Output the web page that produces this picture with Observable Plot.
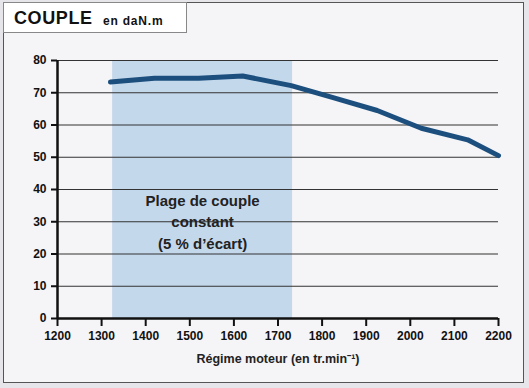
<!DOCTYPE html>
<html>
<head>
<meta charset="utf-8">
<script src="https://cdn.jsdelivr.net/npm/d3@7"></script>
<script src="https://cdn.jsdelivr.net/npm/@observablehq/plot@0.6"></script>
<style>
  html, body { margin: 0; padding: 0; background: #e6e6ea; }
  #wrap { position: relative; width: 529px; height: 388px; overflow: hidden; }
  #frame { position: absolute; left: 3px; top: 2px; width: 519px; height: 379px;
           background: #f5f4f7; border: 1.5px solid #555; }
  #title { position: absolute; left: 3px; top: 2px; width: 182px; height: 29px;
           background: #fff; border: 1px solid #888; font-family: "Liberation Sans", Arial, sans-serif;
           font-weight: bold; color: #111; white-space: nowrap; }
  #title .big { position: absolute; left: 10px; top: 5px; font-size: 18px; letter-spacing: 0.6px; }
  #title .small { position: absolute; left: 99px; top: 11px; font-size: 12px; letter-spacing: 0.8px; }
  #chart { position: absolute; left: 0; top: 0; }
</style>
</head>
<body>
<div id="wrap">
  <div id="frame"></div>
  <div id="title"><span class="big">COUPLE</span><span class="small">en daN.m</span></div>
  <div id="chart"></div>
</div>
<script>
const rpm = [1320, 1420, 1520, 1620, 1730, 1825, 1925, 2025, 2130, 2200];
const torque = [73.3, 74.5, 74.5, 75.2, 72.2, 68.5, 64.5, 59.0, 55.4, 50.5];
const bandRange = [1325, 1733];
const bandLabel = ["Plage de couple", "constant", "(5 % d’écart)"];
const xTicks = [1200, 1300, 1400, 1500, 1600, 1700, 1800, 1900, 2000, 2100, 2200];
const yTicks = [0, 10, 20, 30, 40, 50, 60, 70, 80];
const xTitle = "Régime moteur (en tr.min⁻¹)";

const data = rpm.map((r, i) => ({rpm: r, torque: torque[i]}));
const font = "'Liberation Sans Narrow', 'Liberation Sans', Arial, sans-serif";

const chart = Plot.plot({
  width: 529,
  height: 388,
  marginLeft: 57,
  marginRight: 31,
  marginTop: 60,
  marginBottom: 70,
  style: {background: "transparent", fontFamily: font, fontSize: "12px", fontWeight: "bold", color: "#111"},
  x: {domain: [1200, 2200]},
  y: {domain: [0, 80]},
  marks: [
    Plot.rect([bandRange], {x1: d => d[0], x2: d => d[1], y1: 0, y2: 80, fill: "#c4d8ec"}),
    Plot.ruleY(yTicks.filter(v => v > 0), {x1: 1200, x2: 2200, stroke: "#333", strokeWidth: 1.2}),
    Plot.text([bandLabel.join("\n")], {
      x: (bandRange[0] + bandRange[1]) / 2, y: 30.4, text: d => d,
      fontSize: 15, lineHeight: 1.45, fill: "#222", fontWeight: "bold"
    }),
    Plot.line(data, {x: "rpm", y: "torque", stroke: "#1c4f7e", strokeWidth: 5,
      strokeLinejoin: "round", strokeLinecap: "round"}),
    Plot.ruleX([1200], {y1: 0, y2: 80, stroke: "#111", strokeWidth: 2.5}),
    Plot.ruleY([0], {x1: 1200, x2: 2200, stroke: "#111", strokeWidth: 2.5}),
    Plot.axisY({ticks: yTicks, tickSize: 6, tickPadding: 5, strokeWidth: 2, label: null,
      tickFormat: d => String(d), fontSize: 12}),
    Plot.axisX({ticks: xTicks, tickSize: 8, tickPadding: 5, strokeWidth: 2, label: null,
      tickFormat: d => String(d), fontSize: 12}),
    Plot.text([xTitle], {frameAnchor: "bottom", dy: 44, text: d => d, fontSize: 12.5, fill: "#222", fontWeight: "bold"})
  ]
});
document.getElementById("chart").appendChild(chart);
</script>
</body>
</html>
